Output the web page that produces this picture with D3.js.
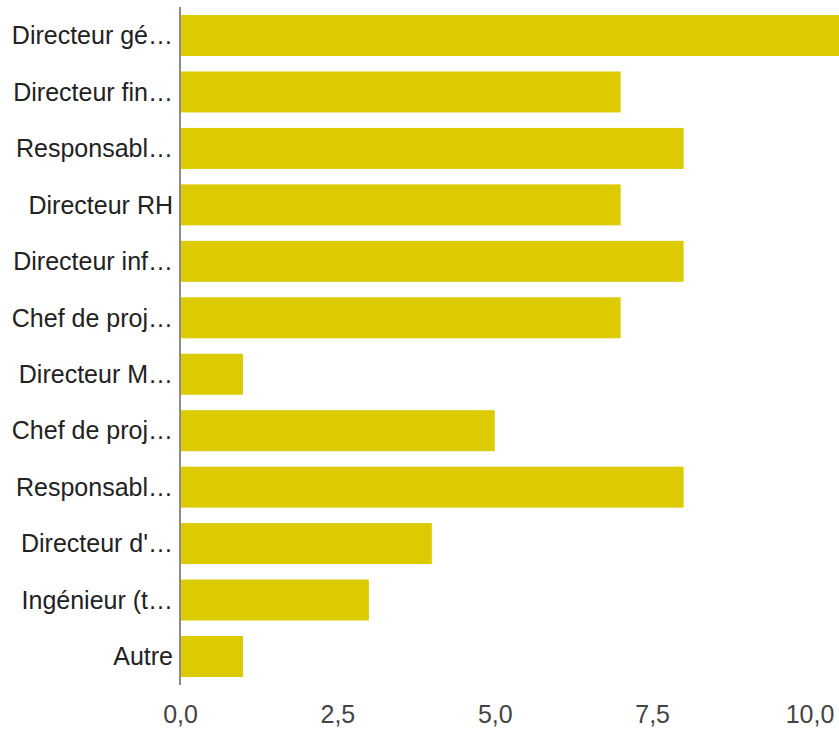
<!DOCTYPE html>
<html>
<head>
<meta charset="utf-8">
<script src="https://cdn.jsdelivr.net/npm/d3@7"></script>
<style>
  html, body { margin: 0; padding: 0; background: #fff; }
  svg { display: block; }
</style>
</head>
<body>
<svg id="chart" width="839" height="731"></svg>
<script>
// Response counts per job title (labels are shown truncated)
const categories = [
  "Directeur gé…", "Directeur fin…", "Responsabl…", "Directeur RH",
  "Directeur inf…", "Chef de proj…", "Directeur M…", "Chef de proj…",
  "Responsabl…", "Directeur d'…", "Ingénieur (t…", "Autre"
];
const values = [11, 7, 8, 7, 8, 7, 1, 5, 8, 4, 3, 1];
const tickValues = [0, 2.5, 5, 7.5, 10];
const tickLabels = ["0,0", "2,5", "5,0", "7,5", "10,0"];

const svg = d3.select("#chart");

const x = d3.scaleLinear().domain([0, 10]).range([180, 809.5]);
const y = d3.scaleBand()
  .domain(d3.range(categories.length))
  .range([7.3, 684.7])
  .paddingInner(0.274)
  .paddingOuter(0.137);

const font = "'Liberation Sans', Arial, sans-serif";

// Bars
svg.append("g")
  .selectAll("rect")
  .data(values)
  .join("rect")
  .attr("x", x(0) + 1)
  .attr("y", (d, i) => y(i))
  .attr("width", d => Math.max(0, x(d) - x(0) - 1))
  .attr("height", y.bandwidth())
  .attr("fill", "#dccb00");

// Category labels
svg.append("g")
  .selectAll("text")
  .data(categories)
  .join("text")
  .attr("x", 173)
  .attr("y", (d, i) => y(i) + y.bandwidth() / 2)
  .attr("dy", "0.35em")
  .attr("text-anchor", "end")
  .attr("font-family", font)
  .attr("font-size", 25)
  .attr("fill", "#222")
  .text(d => d);

// Baseline axis line at zero
svg.append("line")
  .attr("x1", x(0)).attr("x2", x(0))
  .attr("y1", 7).attr("y2", 685)
  .attr("stroke", "#8c8c8c")
  .attr("stroke-width", 2);

// X axis tick labels
const xAxis = d3.axisBottom(x)
  .tickValues(tickValues)
  .tickFormat((d, i) => tickLabels[i])
  .tickSize(0)
  .tickPadding(0);

const gx = svg.append("g")
  .attr("transform", "translate(0,700)")
  .call(xAxis);
gx.select(".domain").remove();
gx.selectAll("text")
  .attr("font-family", font)
  .attr("font-size", 25)
  .attr("fill", "#444")
  .attr("dy", null)
  .attr("y", 23);
</script>
</body>
</html>
